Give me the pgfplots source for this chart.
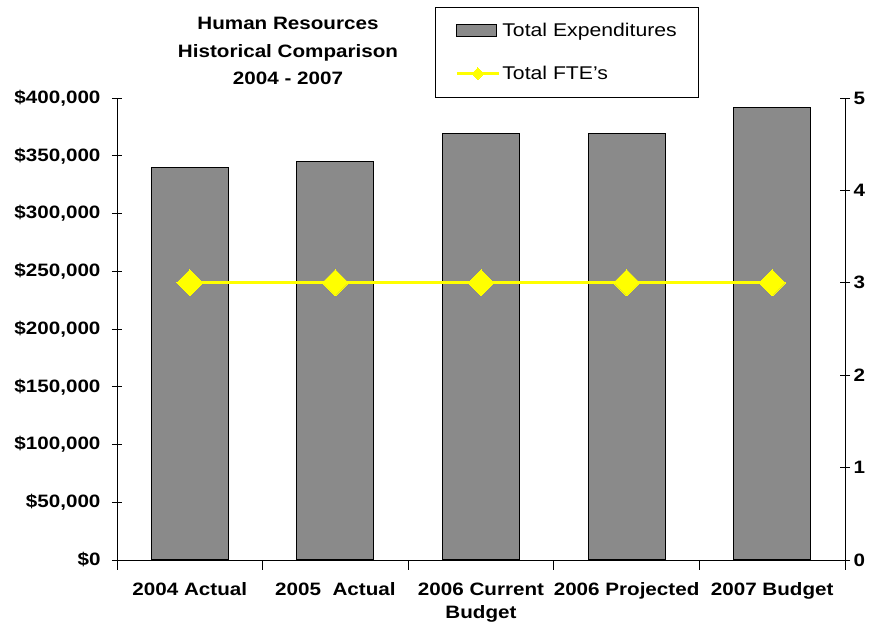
\documentclass[border=0pt]{standalone}
\usepackage{pgfplots}
\pgfplotsset{compat=1.18}
\usepackage{fontspec}
\setmainfont{Liberation Sans}[FakeStretch=1.15]
\definecolor{barfill}{RGB}{138,138,138}
\definecolor{fteyellow}{RGB}{255,255,0}
\pgfplotsset{
  barlegend/.style={legend image code/.code={\draw[##1] (0bp,-6bp) rectangle (40bp,6bp);}},
  linelegend/.style={legend image code/.code={\draw[##1] (0bp,0bp) -- (42bp,0bp); \draw[##1, mark size=4.2bp] plot coordinates {(21bp,0bp)};}},
}
\begin{document}
\begin{tikzpicture}
\pgfplotsset{
  every axis/.append style={
    scale only axis, width=728bp, height=462bp,
    xmin=-0.5, xmax=4.5,
    axis line style={black, line width=0.8pt},
    tick style={black, line width=0.8pt},
    tick align=center,
    major tick length=10bp,
    /pgf/number format/assume math mode=true,
    tick label style={font=\bfseries\fontsize{18}{18}\selectfont},
  }
}
\begin{axis}[
  ymin=0, ymax=400000,
  axis x line*=bottom, axis y line*=left,
  ytick={0,50000,...,400000},
  scaled y ticks=false,
  yticklabel={\$\pgfmathprintnumber[fixed,precision=0,1000 sep={,}]{\tick}},
  yticklabel style={xshift=-8bp},
  xtick={-0.5,0.5,...,4.5},
  xticklabels={{},{},{},{},{},{}},
  extra x ticks={0,1,2,3,4},
  extra x tick labels={2004 Actual, {2005\ \ Actual}, {2006 Current\\Budget}, 2006 Projected, 2007 Budget},
  extra x tick style={major tick length=0pt},
  xticklabel style={align=center, yshift=-19bp, font=\bfseries\fontsize{18}{24}\selectfont},
  ybar, bar width=77bp,
]
\addplot[fill=barfill, draw=black, line width=1pt] coordinates {(0,340000) (1,345000) (2,369000) (3,369000) (4,392000)};
\coordinate (NW) at (rel axis cs:0,1);
\coordinate (SE) at (rel axis cs:1,0);
\end{axis}
\begin{axis}[
  ymin=0, ymax=5,
  axis y line*=right, axis x line=none,
  ytick={0,1,...,5},
  legend style={at={(axis description cs:0.4368,1.197)}, anchor=north west, draw=black, line width=0.8pt,
    font=\fontsize{18.5}{18.5}\selectfont, inner xsep=20bp, inner ysep=14bp, row sep=24bp,
    nodes={inner sep=2bp}},
  legend cell align=left,
]
\addlegendimage{area legend, fill=barfill, draw=black, line width=1pt, barlegend}
\addlegendentry{Total Expenditures}
\addplot[fteyellow, line width=3pt, mark=square*, mark size=9.2bp,
  mark options={rotate=45, fill=fteyellow, draw=fteyellow, line width=0pt}, linelegend]
  coordinates {(0,3) (1,3) (2,3) (3,3) (4,3)};
\addlegendentry{Total FTE's}
\end{axis}
\node[align=center, font=\bfseries\fontsize{18}{28}\selectfont] at ([shift={(171bp,47bp)}]NW) {Human Resources\\Historical Comparison\\2004 - 2007};
\pgfresetboundingbox
\path ([shift={(-117bp,98bp)}]NW) rectangle ([shift={(40bp,-63bp)}]SE);
\end{tikzpicture}
\end{document}
